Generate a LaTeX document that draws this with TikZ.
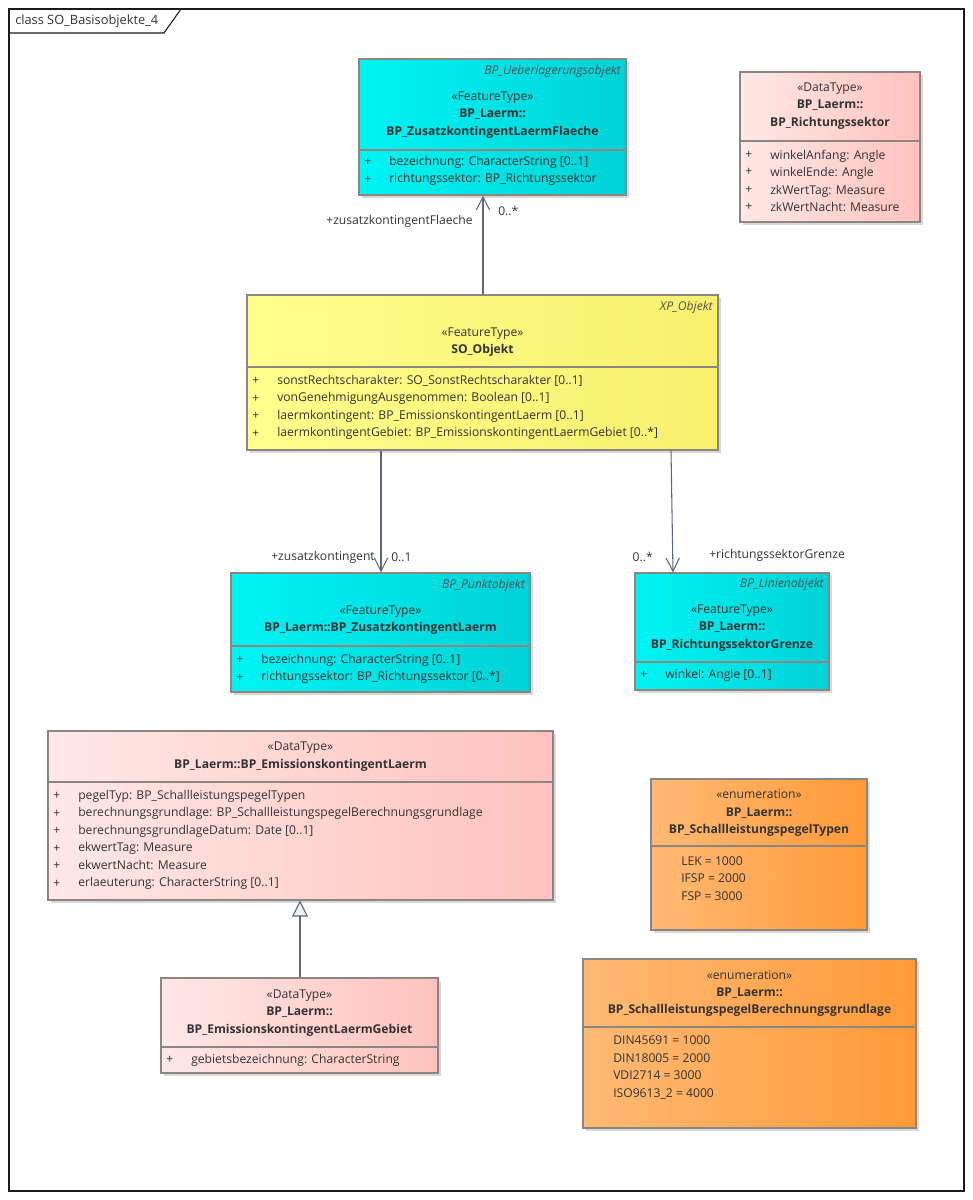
\documentclass[tikz,border=0pt]{standalone}
\usepackage{fontspec}
\setmainfont{Open Sans}
\usetikzlibrary{arrows.meta,fit,shadows}
\definecolor{Ink}{HTML}{333333}
\definecolor{Frame}{HTML}{1A1A1A}
\definecolor{BoxLine}{HTML}{8C8580}
\definecolor{Wire}{HTML}{5D667A}
\definecolor{CyanL}{HTML}{00F4F4}
\definecolor{CyanR}{HTML}{00D2D6}
\definecolor{YellowL}{HTML}{FFFF8C}
\definecolor{YellowR}{HTML}{F8F06E}
\definecolor{RoseL}{HTML}{FFE8E5}
\definecolor{RoseR}{HTML}{FFC2BE}
\definecolor{OrangeL}{HTML}{FFBA74}
\definecolor{OrangeR}{HTML}{FF9A38}

\begin{document}
\begin{tikzpicture}[x=0.75pt,y=-0.75pt,
    every node/.style={font=\fontsize{9.1}{13.1}\selectfont,text=Ink,inner sep=0pt},
    cls/.style={draw=BoxLine,line width=0.8pt,inner sep=0pt,
      drop shadow={shadow xshift=2.2pt,shadow yshift=-2.2pt,fill=black!30,opacity=0.5}},
    feature/.style={cls,left color=CyanL,right color=CyanR},
    basis/.style={cls,left color=YellowL,right color=YellowR},
    datatype/.style={cls,left color=RoseL,right color=RoseR},
    enumtype/.style={cls,left color=OrangeL,right color=OrangeR},
    divider/.style={draw=BoxLine,line width=0.8pt},
    head/.style={align=center},
    attrs/.style={align=left,anchor=west},
    parent/.style={anchor=east,font=\fontsize{9.1}{13.1}\selectfont\itshape,text=Ink!85},
    assoc/.style={draw=Wire,line width=0.8pt,-{Straight Barb[length=10pt,width=10pt]}},
    generalize/.style={draw=Wire,line width=0.8pt,-{Triangle[length=12pt,width=12pt,fill=black!6]}}]
  \path[fill=white,use as bounding box] (0,0) rectangle (973,1200);

  % diagram frame
  \draw[Frame,line width=0.8pt] (9,9) rectangle (964,1191);
  \draw[Frame,line width=0.8pt] (9,33) -- (164,33) -- (181,9);
  \node[anchor=west,font=\fontsize{9.6}{12}\selectfont] (title) at (15,21) {class SO\_Basisobjekte\_4};

  % BP_ZusatzkontingentLaermFlaeche
  \node[feature,fit={(359,59) (626,195)}] (flaeche) {};
  \draw[divider] (flaeche.west |- 0,150) -- (flaeche.east |- 0,150);
  \node[parent] (flaecheP) at (621,71) {BP\_Ueberlagerungsobjekt};
  \node[head] (flaecheH) at (492.5,115) {«FeatureType»\\\textbf{BP\_Laerm::}\\\textbf{BP\_ZusatzkontingentLaermFlaeche}};
  \node[attrs] (flaecheV) at (364,171) {+\\+};
  \node[attrs] (flaecheA) at (389,171) {bezeichnung: CharacterString [0..1]\\richtungssektor: BP\_Richtungssektor};

  % BP_Richtungssektor
  \node[datatype,fit={(740,72) (920,222)}] (sektor) {};
  \draw[divider] (sektor.west |- 0,141) -- (sektor.east |- 0,141);
  \node[head] (sektorH) at (830,106) {«DataType»\\\textbf{BP\_Laerm::}\\\textbf{BP\_Richtungssektor}};
  \node[attrs] (sektorV) at (745,181) {+\\+\\+\\+};
  \node[attrs] (sektorA) at (770,181) {winkelAnfang: Angle\\winkelEnde: Angle\\zkWertTag: Measure\\zkWertNacht: Measure};

  % SO_Objekt
  \node[basis,fit={(247,295) (718,450)}] (soobj) {};
  \draw[divider] (soobj.west |- 0,367) -- (soobj.east |- 0,367);
  \node[parent] (soobjP) at (713,307) {XP\_Objekt};
  \node[head] (soobjH) at (482.5,342) {«FeatureType»\\\textbf{SO\_Objekt}};
  \node[attrs] (soobjV) at (252,407.5) {+\\+\\+\\+};
  \node[attrs] (soobjA) at (277,407.5) {sonstRechtscharakter: SO\_SonstRechtscharakter [0..1]\\vonGenehmigungAusgenommen: Boolean [0..1]\\laermkontingent: BP\_EmissionskontingentLaerm [0..1]\\laermkontingentGebiet: BP\_EmissionskontingentLaermGebiet [0..*]};

  % BP_ZusatzkontingentLaerm
  \node[feature,fit={(231,573) (530,692)}] (punkt) {};
  \draw[divider] (punkt.west |- 0,646) -- (punkt.east |- 0,646);
  \node[parent] (punktP) at (525,585) {BP\_Punktobjekt};
  \node[head] (punktH) at (380.5,620) {«FeatureType»\\\textbf{BP\_Laerm::BP\_ZusatzkontingentLaerm}};
  \node[attrs] (punktV) at (236,669) {+\\+};
  \node[attrs] (punktA) at (261,669) {bezeichnung: CharacterString [0..1]\\richtungssektor: BP\_Richtungssektor [0..*]};

  % BP_RichtungssektorGrenze
  \node[feature,fit={(635,573) (829,690)}] (grenze) {};
  \draw[divider] (grenze.west |- 0,662) -- (grenze.east |- 0,662);
  \node[parent] (grenzeP) at (824,584) {BP\_Linienobjekt};
  \node[head] (grenzeH) at (732,628) {«FeatureType»\\\textbf{BP\_Laerm::}\\\textbf{BP\_RichtungssektorGrenze}};
  \node[attrs] (grenzeV) at (640,675) {+};
  \node[attrs] (grenzeA) at (665,675) {winkel: Angle [0..1]};

  % BP_EmissionskontingentLaerm
  \node[datatype,fit={(48,731) (553,900)}] (emission) {};
  \draw[divider] (emission.west |- 0,782) -- (emission.east |- 0,782);
  \node[head] (emissionH) at (300.5,756.5) {«DataType»\\\textbf{BP\_Laerm::BP\_EmissionskontingentLaerm}};
  \node[attrs] (emissionV) at (53,840) {+\\+\\+\\+\\+\\+};
  \node[attrs] (emissionA) at (78,840) {pegelTyp: BP\_SchallleistungspegelTypen\\berechnungsgrundlage: BP\_SchallleistungspegelBerechnungsgrundlage\\berechnungsgrundlageDatum: Date [0..1]\\ekwertTag: Measure\\ekwertNacht: Measure\\erlaeuterung: CharacterString [0..1]};

  % BP_EmissionskontingentLaermGebiet
  \node[datatype,fit={(161,978) (438,1073)}] (gebiet) {};
  \draw[divider] (gebiet.west |- 0,1047) -- (gebiet.east |- 0,1047);
  \node[head] (gebietH) at (299.5,1013) {«DataType»\\\textbf{BP\_Laerm::}\\\textbf{BP\_EmissionskontingentLaermGebiet}};
  \node[attrs] (gebietV) at (166,1060) {+};
  \node[attrs] (gebietA) at (191,1060) {gebietsbezeichnung: CharacterString};

  % BP_SchallleistungspegelTypen
  \node[enumtype,fit={(651,779) (867,930)}] (typen) {};
  \draw[divider] (typen.west |- 0,846) -- (typen.east |- 0,846);
  \node[head] (typenH) at (759,813) {«enumeration»\\\textbf{BP\_Laerm::}\\\textbf{BP\_SchallleistungspegelTypen}};
  \node[attrs] (typenA) at (681,878.5) {LEK = 1000\\IFSP = 2000\\FSP = 3000};

  % BP_SchallleistungspegelBerechnungsgrundlage
  \node[enumtype,fit={(583,959) (916,1128)}] (grundlage) {};
  \draw[divider] (grundlage.west |- 0,1027) -- (grundlage.east |- 0,1027);
  \node[head] (grundlageH) at (749.5,993.5) {«enumeration»\\\textbf{BP\_Laerm::}\\\textbf{BP\_SchallleistungspegelBerechnungsgrundlage}};
  \node[attrs] (grundlageA) at (613,1067.5) {DIN45691 = 1000\\DIN18005 = 2000\\VDI2714 = 3000\\ISO9613\_2 = 4000};

  % associations
  \draw[assoc] (483,0 |- soobj.north) -- (483,0 |- flaeche.south);
  \node[anchor=east] (flaecheRole) at (473,221) {+zusatzkontingentFlaeche};
  \node[anchor=west] (flaecheMult) at (498,211) {0..*};

  \draw[assoc] (381,0 |- soobj.south) -- (381,0 |- punkt.north);
  \node[anchor=east] (punktRole) at (375,557) {+zusatzkontingent};
  \node[anchor=west] (punktMult) at (391,557) {0..1};

  \draw[assoc] (671,0 |- soobj.south) -- (673,0 |- grenze.north);
  \node[anchor=east] (grenzeMult) at (653,557) {0..*};
  \node[anchor=west] (grenzeRole) at (709,555) {+richtungssektorGrenze};

  % generalization
  \draw[generalize] (300,0 |- gebiet.north) -- (300,0 |- emission.south);
\end{tikzpicture}
\end{document}
